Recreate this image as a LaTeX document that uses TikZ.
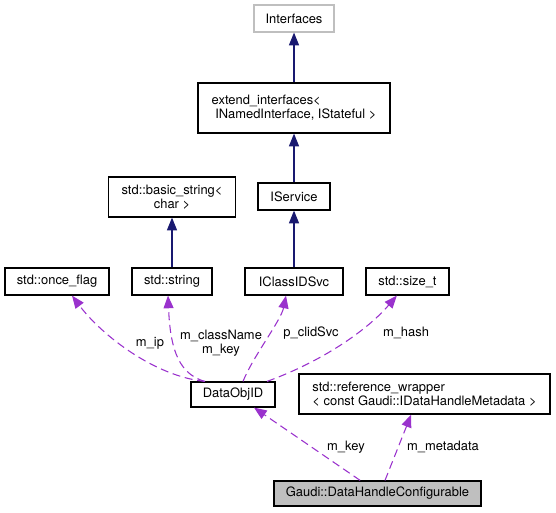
\documentclass[tikz,border=0pt]{standalone}
\usepackage{fontspec}
\setmainfont{TeX Gyre Heros}
\usetikzlibrary{arrows.meta}
\definecolor{inheritblue}{HTML}{191970}
\definecolor{memberpurple}{HTML}{9A32CD}
\definecolor{classgray}{HTML}{BFBFBF}

\begin{document}
\begin{tikzpicture}[x=0.75pt,y=-0.75pt]
  \tikzset{every node/.style={font=\fontsize{9.7}{10.5}\selectfont},
    cls/.style={draw, line width=0.9pt, inner sep=0pt, minimum height=20.25pt},
    inherit/.style={inheritblue, line width=0.8pt, -{Triangle[length=9.5pt,width=7.5pt]}},
    member/.style={memberpurple, line width=0.8pt, dash pattern=on 6pt off 3.5pt,
      -{Triangle[length=9.5pt,width=7.5pt]}}}
  \useasboundingbox (0,0) rectangle (556,512);
  % classes
  \node[cls, draw=classgray, minimum width=60pt] (interfaces) at (294,18.5) {Interfaces};
  \node[cls, minimum width=144pt, minimum height=37.5pt, align=left] (extend) at (294,108)
    {extend\_interfaces<\\\ INamedInterface, IStateful >};
  \node[cls, minimum width=95.25pt, minimum height=30pt, align=center] (basicstring) at (172,197)
    {std::basic\_string<\\char >};
  \node[cls, minimum width=54pt] (iservice) at (294,196.5) {IService};
  \node[cls, minimum width=78pt] (onceflag) at (57,281.5) {std::once\_flag};
  \node[cls, minimum width=60pt] (stdstring) at (172,281.5) {std::string};
  \node[cls, minimum width=73.5pt] (iclassidsvc) at (294,281.5) {IClassIDSvc};
  \node[cls, minimum width=62.25pt] (sizet) at (407.5,281.5) {std::size\_t};
  \node[cls, minimum width=63pt, minimum height=18.75pt] (dataobjid) at (233,394.5) {DataObjID};
  \node[cls, minimum width=188.25pt, minimum height=30pt, align=left] (refwrapper) at (424.5,394)
    {std::reference\_wrapper\\< const Gaudi::IDataHandleMetadata >};
  \node[cls, fill=classgray, minimum width=155.25pt, minimum height=18.75pt] (handleconf) at (377.5,493.5)
    {Gaudi::DataHandleConfigurable};
  % inheritance
  \draw[inherit] (extend) -- (interfaces);
  \draw[inherit] (iservice) -- (extend);
  \draw[inherit] (iclassidsvc) -- (iservice);
  \draw[inherit] (stdstring) -- (basicstring);
  % members
  \draw[member] ([xshift=-21pt]dataobjid.north) .. controls +(-50,-5) and +(30,40) .. ([xshift=11.25pt]onceflag.south);
  \draw[member] ([xshift=-21pt]dataobjid.north) .. controls +(-30,-8) and +(2,45) .. ([xshift=-3pt]stdstring.south);
  \draw[member] ([xshift=7.5pt]dataobjid.north) .. controls +(10,-25) and +(-5,25) .. ([xshift=-6pt]iclassidsvc.south);
  \draw[member] ([xshift=25.5pt]dataobjid.north) .. controls +(55,-20) and +(-30,35) .. ([xshift=-8pt]sizet.south);
  \draw[member] ([xshift=-13pt]handleconf.north) -- ([xshift=15.75pt]dataobjid.south);
  \draw[member] ([xshift=5.6pt]handleconf.north) -- ([xshift=-10pt]refwrapper.south);
  % labels
  \node (lblip) at (150,343) {m\_ip};
  \node[align=center] (lblclassname) at (221,343) {m\_className\\m\_key};
  \node (lblclid) at (311,333) {p\_clidSvc};
  \node (lblhash) at (406,333) {m\_hash};
  \node (lblkey) at (346,447) {m\_key};
  \node (lblmeta) at (443,447) {m\_metadata};
\end{tikzpicture}
\end{document}
